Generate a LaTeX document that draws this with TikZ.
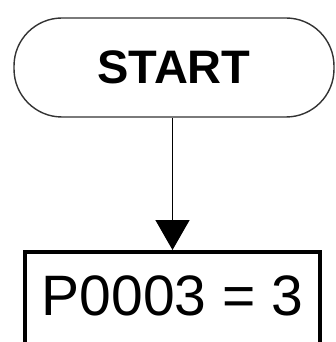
\documentclass[tikz,border=0pt]{standalone}
\usepackage{fontspec}
\setmainfont{Liberation Sans}
\usetikzlibrary{arrows.meta}

\begin{document}
\begin{tikzpicture}[
  x=1pt,y=1pt,
  term/.style={draw=black!80,line width=1.4pt,rounded corners=48pt,
               minimum width=320pt,minimum height=99pt,
               font=\fontsize{47}{50}\selectfont\bfseries},
  proc/.style={draw,line width=4pt,minimum width=295pt,minimum height=104pt,
               text depth=16pt,font=\fontsize{57}{60}\selectfont},
  arr/.style={-{Triangle[length=30pt,width=34pt]},line width=1.5pt},
]
\useasboundingbox (0,0) rectangle (335,-342);

%% Start terminal
\node[term] (start) at (174,-67.5) {START};

%% Parameter box (cut off below)
\node[proc] (p3) at (172.5,-304) {P0003 = 3};

\draw[arr] (start.south -| p3.north) -- (p3.north);

\end{tikzpicture}
\end{document}
